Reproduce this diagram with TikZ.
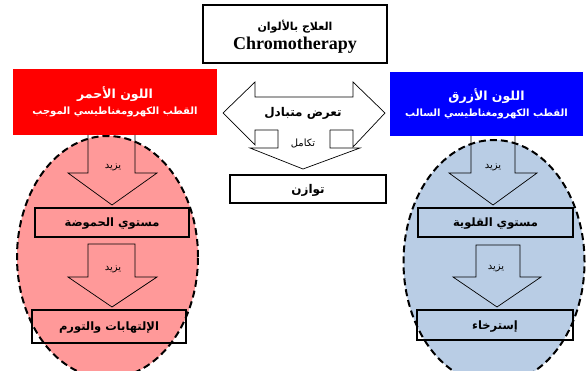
\documentclass[tikz,border=0pt]{standalone}
\usepackage{fontspec}
\setmainfont{Liberation Serif}
\newfontfamily\arabicfont[Script=Arabic]{DejaVu Sans}
\TeXXeTstate=1
\usetikzlibrary{shapes.geometric}

\definecolor{polered}{HTML}{FF0000}
\definecolor{poleblue}{HTML}{0000FF}
\definecolor{acidpink}{HTML}{FF9999}
\definecolor{alkblue}{HTML}{B9CDE5}

\tikzset{
  zone/.style={ellipse, draw=black, line width=2pt, dash pattern=on 7pt off 4pt, inner sep=0pt},
  polebox/.style={rectangle, draw=none, text=white, align=center, inner sep=0pt,
    font=\arabicfont\bfseries},
  levelbox/.style={rectangle, draw=black, line width=1.6pt, inner sep=0pt, text depth=0pt,
    font=\arabicfont\bfseries\fontsize{11.5}{13}\selectfont},
  blockarrow/.style={draw=black, line width=0.7pt},
  arrowlabel/.style={inner sep=0pt, font=\arabicfont\fontsize{10}{12}\selectfont},
}

\begin{document}
\begin{tikzpicture}[x=1pt, y=-1pt]
\useasboundingbox[fill=white] (0,0) rectangle (588,371);

% the two dashed zones
\node[zone, fill=acidpink, minimum width=181pt, minimum height=242pt] (acidzone) at (107.5,257) {};
\node[zone, fill=alkblue, minimum width=181pt, minimum height=244pt] (alkzone) at (494,262) {};

% title
\node[rectangle, draw=black, line width=1.8pt, minimum width=184pt, minimum height=58pt,
      inner sep=0pt] (title) at (295,34) {};
\node[align=center, inner sep=0pt] (titletext) at (295,36.5)
  {{\arabicfont\bfseries\fontsize{11}{13}\selectfont\beginR العلاج بالألوان\endR}\\[3pt]
   {\bfseries\fontsize{18}{20}\selectfont Chromotherapy}};

% the two poles
\node[polebox, fill=polered, minimum width=204pt, minimum height=66pt] (redpole) at (115,102)
  {{\fontsize{12.5}{14}\selectfont\beginR اللون الأحمر\endR}\\[4pt]
   {\fontsize{10}{12}\selectfont\beginR القطب الكهرومغناطيسي الموجب\endR}};
\node[polebox, fill=poleblue, minimum width=193pt, minimum height=64pt] (bluepole) at (486.5,104)
  {{\fontsize{12.5}{14}\selectfont\beginR اللون الأزرق\endR}\\[4pt]
   {\fontsize{10}{12}\selectfont\beginR القطب الكهرومغناطيسي السالب\endR}};

% level boxes
\node[levelbox, minimum width=154pt, minimum height=29pt] (acidity) at (112,222.5)
  {\beginR مستوي الحموضة\endR};
\node[levelbox, minimum width=154pt, minimum height=33pt] (inflam) at (109,326.5)
  {\beginR الإلتهابات والتورم\endR};
\node[levelbox, minimum width=155pt, minimum height=29pt] (alkalinity) at (495.5,222.5)
  {\beginR مستوي القلوية\endR};
\node[levelbox, minimum width=156pt, minimum height=30pt] (relax) at (495,325)
  {\beginR إسترخاء\endR};

% "increases" arrows inside the zones
\draw[blockarrow] (88,135) -- (88,173) -- (68,173) -- (112,205) -- (157,173) -- (135,173) -- (135,135);
\draw[blockarrow] (88,244) -- (88,277) -- (68,277) -- (112,307) -- (157,277) -- (135,277) -- (135,244) -- cycle;
\draw[blockarrow] (471,136) -- (471,173) -- (449,173) -- (493,205) -- (537,173) -- (515,173) -- (515,136);
\draw[blockarrow] (476,245) -- (476,277) -- (453,277) -- (497,307) -- (541,277) -- (520,277) -- (520,245) -- cycle;
\node[arrowlabel] (inc1) at (113,167) {\beginR يزيد\endR};
\node[arrowlabel] (inc2) at (113,269) {\beginR يزيد\endR};
\node[arrowlabel] (inc3) at (493,167) {\beginR يزيد\endR};
\node[arrowlabel] (inc4) at (496,268) {\beginR يزيد\endR};

% central exchange arrow and integration arrow
\fill[white] (223,113) -- (255,82) -- (255,97) -- (353,97) -- (353,82) -- (385,113)
  -- (353,147) -- (353,130) -- (255,130) -- (255,145) -- cycle;
\fill[white] (278,130) -- (278,148) -- (250,148) -- (303,169) -- (360,148) -- (330,148) -- (330,130) -- cycle;
\draw[blockarrow] (278,130) -- (255,130) -- (255,145) -- (223,113) -- (255,82) -- (255,97)
  -- (353,97) -- (353,82) -- (385,113) -- (353,147) -- (353,130) -- (330,130);
\draw[blockarrow] (278,130) -- (278,148) -- (250,148) -- (303,169) -- (360,148) -- (330,148) -- (330,130);
\node[inner sep=0pt, font=\arabicfont\bfseries\fontsize{12}{14}\selectfont] (exchange) at (303,113)
  {\beginR تعرض متبادل\endR};
\node[inner sep=0pt, font=\arabicfont\fontsize{10}{12}\selectfont] (integr) at (303,143)
  {\beginR تكامل\endR};

% balance
\node[rectangle, draw=black, line width=1.6pt, minimum width=156pt, minimum height=28pt,
      inner sep=0pt, text depth=0pt, font=\arabicfont\bfseries\fontsize{12}{14}\selectfont] (balance) at (308,189)
  {\beginR توازن\endR};
\end{tikzpicture}
\end{document}
